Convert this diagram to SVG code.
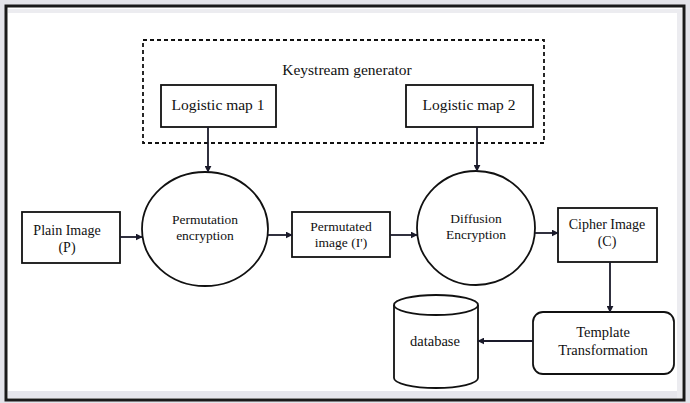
<svg xmlns="http://www.w3.org/2000/svg" width="690" height="403" viewBox="0 0 690 403">
<defs>
<marker id="ah" viewBox="0 0 10 10" refX="9" refY="5" markerWidth="7" markerHeight="7" markerUnits="userSpaceOnUse" orient="auto">
<path d="M0,0 L10,5 L0,10 z" fill="#1a1a2a"/>
</marker>
<style>
.box{fill:#fff;stroke:#111;stroke-width:1.8}
.t{font-family:"Liberation Serif",serif;fill:#111;text-anchor:middle}
.c{stroke:#1a1a2a;stroke-width:1.8;fill:none;marker-end:url(#ah)}
</style>
</defs>
<rect x="0" y="0" width="690" height="403" fill="#e4e4ea"/>
<rect x="6" y="6" width="678" height="394" fill="#fff" stroke="#1a1a1a" stroke-width="3"/>
<rect x="8" y="9" width="672" height="4" fill="#ececf0"/>
<rect x="8" y="391" width="674" height="7" fill="#e6e6ec"/>
<rect x="677" y="9" width="5" height="389" fill="#ececf0"/>
<g id="keystream">
<rect x="143" y="40" width="401" height="103" fill="none" stroke="#111" stroke-width="1.8" stroke-dasharray="4,3"/>
<text class="t" x="347" y="75" font-size="15.5">Keystream generator</text>
</g>
<g id="lm1">
<rect class="box" x="161" y="85" width="115" height="42"/>
<text class="t" x="218" y="110" font-size="15.5">Logistic map 1</text>
</g>
<g id="lm2">
<rect class="box" x="406" y="85" width="127" height="42"/>
<text class="t" x="469" y="110" font-size="15.5">Logistic map 2</text>
</g>
<g id="plain">
<rect class="box" x="22" y="212" width="98" height="51"/>
<text class="t" x="67" y="235" font-size="14">Plain Image</text>
<text class="t" x="67" y="252" font-size="14">(P)</text>
</g>
<g id="perm">
<ellipse class="box" cx="205" cy="229" rx="63" ry="57"/>
<text class="t" x="205" y="224" font-size="13.5">Permutation</text>
<text class="t" x="205" y="240" font-size="13.5">encryption</text>
</g>
<g id="permimg">
<rect class="box" x="292" y="212" width="98" height="45"/>
<text class="t" x="341" y="231" font-size="13.5">Permutated</text>
<text class="t" x="341" y="247" font-size="13.5">image (I')</text>
</g>
<g id="diff">
<ellipse class="box" cx="476" cy="228" rx="59" ry="57"/>
<text class="t" x="476" y="223" font-size="13.5">Diffusion</text>
<text class="t" x="476" y="239" font-size="13.5">Encryption</text>
</g>
<g id="cipher">
<rect class="box" x="558" y="208" width="99" height="54"/>
<text class="t" x="607" y="229" font-size="14">Cipher Image</text>
<text class="t" x="607" y="246" font-size="14">(C)</text>
</g>
<g id="template">
<rect class="box" x="533" y="312" width="141" height="62" rx="10"/>
<text class="t" x="603" y="337" font-size="14.5">Template</text>
<text class="t" x="603" y="355" font-size="14.5">Transformation</text>
</g>
<g id="database">
<path class="box" d="M394,305 L394,378 A42,10 0 0 0 478,378 L478,305"/>
<ellipse class="box" cx="436" cy="305" rx="42" ry="10"/>
<text class="t" x="435" y="346" font-size="14.5">database</text>
</g>
<g id="connectors">
<line class="c" x1="208" y1="127" x2="208" y2="172"/>
<line class="c" x1="477" y1="127" x2="477" y2="171"/>
<line class="c" x1="120" y1="237" x2="142" y2="237"/>
<line class="c" x1="268" y1="235" x2="292" y2="235"/>
<line class="c" x1="390" y1="235" x2="417" y2="235"/>
<line class="c" x1="535" y1="233" x2="558" y2="233"/>
<line class="c" x1="610" y1="262" x2="610" y2="312"/>
<line class="c" x1="533" y1="341" x2="478" y2="341"/>
</g>
</svg>
